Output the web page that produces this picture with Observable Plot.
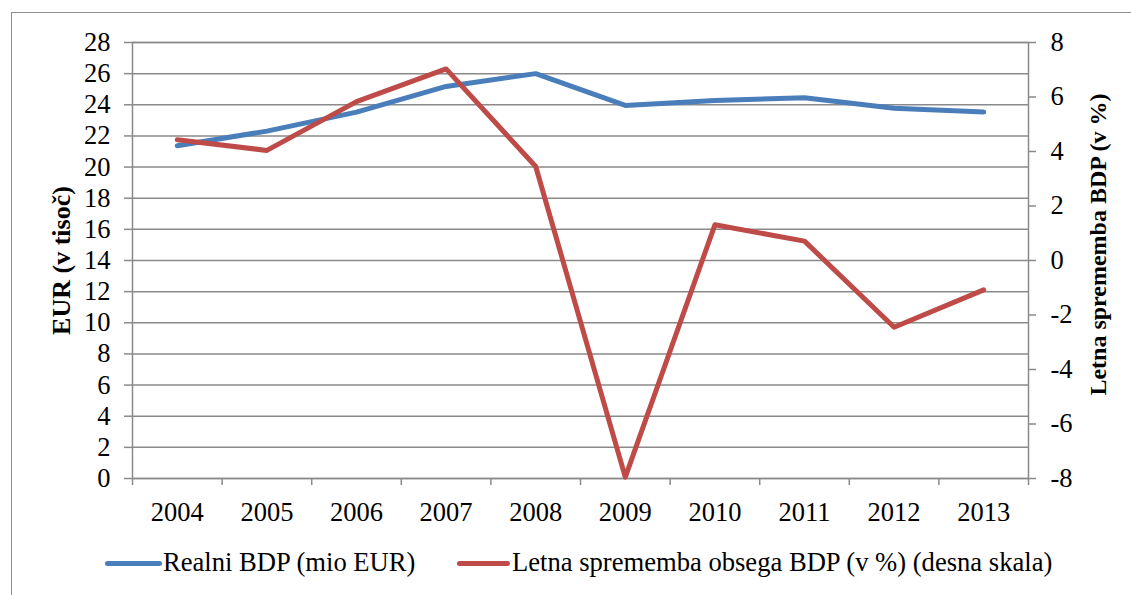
<!DOCTYPE html>
<html>
<head>
<meta charset="utf-8">
<script src="https://cdn.jsdelivr.net/npm/d3@7"></script>
<script src="https://cdn.jsdelivr.net/npm/@observablehq/plot@0.6"></script>
<style>
  html, body { margin: 0; padding: 0; background: #fff; overflow: hidden; }
  #wrap { position: relative; width: 1131px; height: 595px; font-family: "Liberation Serif", "Times New Roman", serif; }
  #border { position: absolute; left: 11px; top: 12px; width: 1300px; height: 800px; border: 1.5px solid #8c8c8c; pointer-events: none; }
  .leg { position: absolute; font-size: 26.6px; color: #000; white-space: nowrap; line-height: 1; }
  .sw { position: absolute; height: 5px; border-radius: 3px; }
</style>
</head>
<body>
<div id="wrap"></div>
<script>
const years = ["2004", "2005", "2006", "2007", "2008", "2009", "2010", "2011", "2012", "2013"];
const realBDP = [21.37, 22.31, 23.53, 25.18, 26.0, 23.96, 24.28, 24.45, 23.78, 23.53];
const growth = [4.43, 4.04, 5.83, 7.03, 3.45, -7.95, 1.31, 0.71, -2.45, -1.08];
const leftTicks = d3.range(0, 29, 2);
const rightTicks = d3.range(-8, 9, 2);
const seriesNames = ["Realni BDP (mio EUR)", "Letna sprememba obsega BDP (v %) (desna skala)"];
const colors = ["#4a7ebb", "#be4b48"];
const leftTitle = "EUR (v tisoč)";
const rightTitle = "Letna sprememba BDP (v %)";

// right scale [-8, 8] mapped onto the left domain [0, 28]
const toLeft = v => (v + 8) * 28 / 16;
const fromLeft = v => Math.round(v * 16 / 28 - 8);

const blueData = years.map((y, i) => ({i: i + 0.5, v: realBDP[i]}));
const redData = years.map((y, i) => ({i: i + 0.5, v: toLeft(growth[i])}));

const grid = "#8a8a8a";
const fs = 26.5;

const chart = Plot.plot({
  width: 1131,
  height: 595,
  marginLeft: 132,
  marginRight: 103,
  marginTop: 42,
  marginBottom: 117,
  style: {fontFamily: "Liberation Serif, Times New Roman, serif", fontSize: "26px", color: "#000", background: "transparent"},
  x: {type: "linear", domain: [0, 10]},
  y: {domain: [0, 28]},
  marks: [
    Plot.gridY(leftTicks, {stroke: grid, strokeOpacity: 1, strokeWidth: 1.5}),
    Plot.frame({stroke: grid, strokeWidth: 1.5}),
    Plot.axisY(leftTicks, {anchor: "left", tickSize: 8, tickPadding: 14, stroke: grid, strokeWidth: 1.5, fill: "#000", fontSize: fs, label: null}),
    Plot.axisY(rightTicks.map(toLeft), {anchor: "right", tickSize: 7, tickPadding: 15, stroke: grid, strokeWidth: 1.5, fill: "#000", fontSize: fs, tickFormat: d => String(fromLeft(d)), label: null}),
    Plot.axisX(d3.range(0, 11), {anchor: "bottom", tickSize: 7, stroke: grid, strokeWidth: 1.5, tickFormat: () => "", label: null}),
    Plot.axisX(d3.range(10).map(i => i + 0.5), {anchor: "bottom", tickSize: 0, tickPadding: 24, fill: "#000", fontSize: fs, tickFormat: d => years[Math.floor(d)], label: null}),
    Plot.line(blueData, {x: "i", y: "v", stroke: colors[0], strokeWidth: 5, strokeLinecap: "round", strokeLinejoin: "round"}),
    Plot.line(redData, {x: "i", y: "v", stroke: colors[1], strokeWidth: 5, strokeLinecap: "round", strokeLinejoin: "round"}),
    Plot.text([leftTitle], {frameAnchor: "left", textAnchor: "middle", lineAnchor: "middle", dx: -71, rotate: -90, fontWeight: "bold", fontSize: 26, fill: "#000"}),
    Plot.text([rightTitle], {frameAnchor: "right", textAnchor: "middle", lineAnchor: "middle", dx: 70, dy: -16, rotate: -90, fontWeight: "bold", fontSize: 24, fill: "#000"})
  ]
});

const wrap = document.getElementById("wrap");
wrap.appendChild(chart);

// legend
const legY = 549;
const items = [
  {sx: 105, sw: 57, tx: 163},
  {sx: 457, sw: 53, tx: 512}
];
items.forEach((it, k) => {
  const s = document.createElement("div");
  s.className = "sw";
  s.style.left = it.sx + "px";
  s.style.top = (legY + 12) + "px";
  s.style.width = it.sw + "px";
  s.style.background = colors[k];
  wrap.appendChild(s);
  const t = document.createElement("div");
  t.className = "leg";
  t.style.left = it.tx + "px";
  t.style.top = legY + "px";
  t.textContent = seriesNames[k];
  wrap.appendChild(t);
});
const b = document.createElement("div");
b.id = "border";
wrap.appendChild(b);
</script>
</body>
</html>
